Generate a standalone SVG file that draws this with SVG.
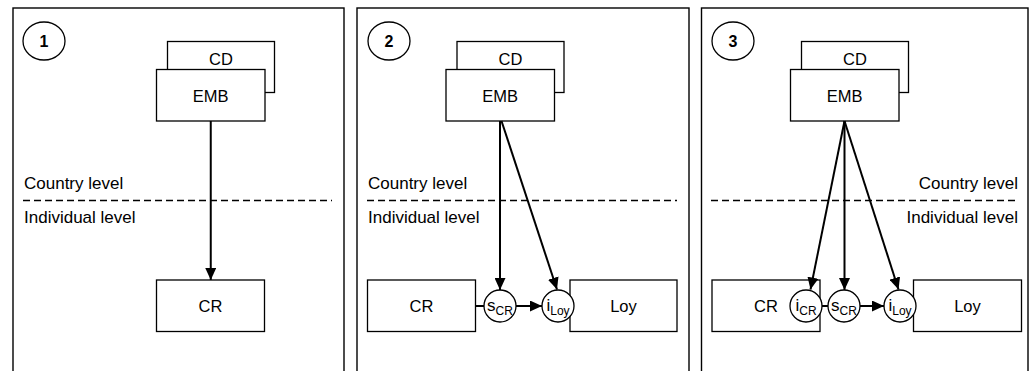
<svg xmlns="http://www.w3.org/2000/svg" width="1031" height="371" viewBox="0 0 1031 371">
<defs>
<style>
.panel{fill:#fff;stroke:#000;stroke-width:1.4}
.box{fill:#fff;stroke:#000;stroke-width:1.3}
.circ{fill:#fff;stroke:#000;stroke-width:1.3}
.num{fill:#fff;stroke:#000;stroke-width:1.3}
.t{font-family:"Liberation Sans",Arial,sans-serif;font-size:16.5px;fill:#000;text-anchor:middle}
.lvl{font-family:"Liberation Sans",Arial,sans-serif;font-size:17px;fill:#000}
.nt{font-family:"Liberation Sans",Arial,sans-serif;font-size:16px;font-weight:bold;fill:#000;text-anchor:middle}
.ct{font-family:"Liberation Sans",Arial,sans-serif;font-size:17px;fill:#000;text-anchor:middle}
.sub{font-size:12px}
.dash{stroke:#000;stroke-width:1.3;stroke-dasharray:7 4;fill:none}
.arr{stroke:#000;stroke-width:2;fill:none;marker-end:url(#ah)}
.ln{stroke:#000;stroke-width:2;fill:none}
</style>
<marker id="ah" markerUnits="userSpaceOnUse" markerWidth="13" markerHeight="11" refX="12" refY="5.5" orient="auto" viewBox="0 0 13 11">
<path d="M0,0 L12,5.5 L0,11 z" fill="#000"/>
</marker>
</defs>

<g id="panel1">
<rect class="panel" x="13" y="8" width="331" height="380"/>
<ellipse class="num" cx="44" cy="41" rx="21" ry="19"/>
<text class="nt" x="44" y="47">1</text>
<text class="lvl" x="24" y="189">Country level</text>
<line class="dash" x1="23" y1="200.5" x2="332" y2="200.5"/>
<text class="lvl" x="24" y="223">Individual level</text>
</g>
<g id="panel2">
<rect class="panel" x="357" y="8" width="332" height="380"/>
<ellipse class="num" cx="389" cy="41" rx="21" ry="19"/>
<text class="nt" x="389" y="47">2</text>
<text class="lvl" x="368" y="189">Country level</text>
<line class="dash" x1="367" y1="200.5" x2="677" y2="200.5"/>
<text class="lvl" x="368" y="223">Individual level</text>
</g>
<g id="panel3">
<rect class="panel" x="701.5" y="8" width="326.5" height="380"/>
<ellipse class="num" cx="733" cy="41" rx="21" ry="19"/>
<text class="nt" x="733" y="47">3</text>
<text class="lvl" x="1018" y="189" text-anchor="end">Country level</text>
<line class="dash" x1="711" y1="200.5" x2="1019" y2="200.5"/>
<text class="lvl" x="1018" y="223" text-anchor="end">Individual level</text>
</g>

<g id="p1-CD"><rect class="box" x="167.5" y="41.5" width="107" height="51"/><text class="t" x="221" y="65">CD</text></g>
<g id="p1-EMB"><rect class="box" x="156.5" y="69.5" width="108.5" height="51.5"/><text class="t" x="210.75" y="101.5">EMB</text></g>
<g id="p1-CR"><rect class="box" x="156.5" y="280" width="108" height="51.5"/><text class="t" x="210.5" y="312">CR</text></g>

<g id="p2-CD"><rect class="box" x="457" y="41.5" width="107" height="51"/><text class="t" x="510.5" y="65">CD</text></g>
<g id="p2-EMB"><rect class="box" x="446" y="69.5" width="108.5" height="51.5"/><text class="t" x="500.25" y="101.5">EMB</text></g>
<g id="p2-CR"><rect class="box" x="367.5" y="280" width="108" height="51.5"/><text class="t" x="421.5" y="312">CR</text></g>
<g id="p2-Loy"><rect class="box" x="570" y="280" width="107" height="51.5"/><text class="t" x="623.5" y="312">Loy</text></g>

<g id="p3-CD"><rect class="box" x="801.5" y="41.5" width="107" height="51"/><text class="t" x="855" y="65">CD</text></g>
<g id="p3-EMB"><rect class="box" x="790.5" y="69.5" width="108.5" height="51.5"/><text class="t" x="844.75" y="101.5">EMB</text></g>
<g id="p3-CR"><rect class="box" x="712" y="280" width="108" height="51.5"/><text class="t" x="766" y="312">CR</text></g>
<g id="p3-Loy"><rect class="box" x="913.5" y="280" width="108" height="51.5"/><text class="t" x="967.5" y="312">Loy</text></g>

<g id="connectors">
<line class="arr" x1="210.75" y1="121" x2="210.75" y2="280"/>
<line class="arr" x1="500" y1="121" x2="500" y2="290"/>
<line class="arr" x1="501.5" y1="121" x2="557" y2="289.5"/>
<line class="ln" x1="475.5" y1="306" x2="484" y2="306"/>
<line class="arr" x1="516" y1="306" x2="542" y2="306"/>
<line class="arr" x1="844.5" y1="121" x2="810.5" y2="289.5"/>
<line class="arr" x1="844.5" y1="121" x2="844.5" y2="290"/>
<line class="arr" x1="844.5" y1="121" x2="898.5" y2="289.5"/>
<line class="ln" x1="822" y1="306" x2="828" y2="306"/>
<line class="arr" x1="860" y1="306" x2="884" y2="306"/>
</g>

<g id="p2-sCR"><circle class="circ" cx="500" cy="306" r="16"/><text class="ct" x="500" y="311">s<tspan class="sub" dy="4">CR</tspan></text></g>
<g id="p2-iLoy"><circle class="circ" cx="558" cy="306" r="16"/><text class="ct" x="558" y="311">i<tspan class="sub" dy="4">Loy</tspan></text></g>
<g id="p3-iCR"><circle class="circ" cx="806" cy="306" r="16"/><text class="ct" x="806" y="311">i<tspan class="sub" dy="4">CR</tspan></text></g>
<g id="p3-sCR"><circle class="circ" cx="844" cy="306" r="16"/><text class="ct" x="844" y="311">s<tspan class="sub" dy="4">CR</tspan></text></g>
<g id="p3-iLoy"><circle class="circ" cx="900" cy="306" r="16"/><text class="ct" x="900" y="311">i<tspan class="sub" dy="4">Loy</tspan></text></g>
</svg>
